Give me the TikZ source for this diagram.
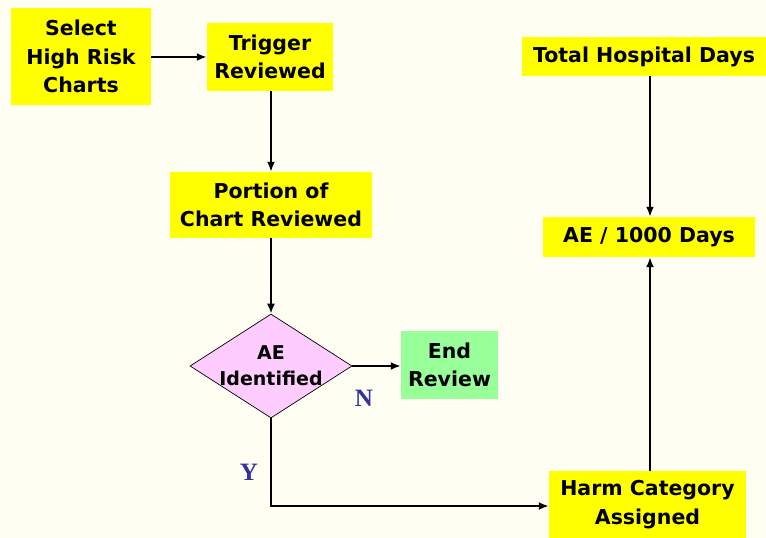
\documentclass[tikz,border=0pt]{standalone}
\usepackage{fontspec}
\setmainfont{DejaVu Sans}
\newfontfamily\yn{Liberation Serif}
\usetikzlibrary{shapes.geometric,arrows.meta}
\definecolor{boxyellow}{RGB}{255,255,0}
\definecolor{endgreen}{RGB}{153,255,153}
\definecolor{decpink}{RGB}{255,204,255}
\definecolor{bgcream}{RGB}{254,255,242}
\definecolor{ynblue}{RGB}{51,51,153}
\begin{document}
\begin{tikzpicture}[x=1pt,y=-1pt,
  box/.style={fill=boxyellow,draw=none,align=center,inner sep=0pt,font=\bfseries\fontsize{20.5}{28.5}\selectfont},
  flow/.style={line width=2pt,-{Latex[length=10pt,width=8pt]}},
  lbl/.style={text=ynblue,font=\yn\bfseries\fontsize{25}{25}\selectfont}]
\fill[bgcream] (0,0) rectangle (766,538);
\useasboundingbox (0,0) rectangle (766,538);
\node[box,minimum width=140pt,minimum height=97pt] (sel) at (81,56.5) {Select\\High Risk\\Charts};
\node[box,minimum width=126pt,minimum height=68pt] (trig) at (270,57) {Trigger\\Reviewed};
\node[box,minimum width=202pt,minimum height=66pt] (port) at (271,205) {Portion of\\Chart Reviewed};
\node[diamond,draw=black,line width=0.7pt,fill=decpink,minimum width=162pt,minimum height=104pt,inner sep=0pt,aspect=1.56] (dec) at (271,366) {};
\node[align=center,font=\bfseries\fontsize{19}{26}\selectfont] (dectext) at (271,366) {AE\\Identified};
\node[box,fill=endgreen,minimum width=97pt,minimum height=68pt] (endr) at (449.5,365) {End\\Review};
\node[box,minimum width=197pt,minimum height=67pt] (harm) at (647.5,504.5) {Harm Category\\Assigned};
\node[box,minimum width=212pt,minimum height=40pt] (ae) at (649,237) {AE / 1000 Days};
\node[box,minimum width=244pt,minimum height=39pt] (tot) at (644,56.5) {Total Hospital Days};
\draw[flow] (sel.east|-0,57) -- (trig.west|-0,57);
\draw[flow] (trig.south-|271,0) -- (port.north-|271,0);
\draw[flow] (port.south-|271,0) -- (dec.north);
\draw[flow] (dec.east) -- (endr.west|-dec.east);
\draw[flow] (dec.south) -- (271,506) -- (harm.west|-0,506);
\draw[flow] (harm.north-|650,0) -- (ae.south-|650,0);
\draw[flow] (tot.south-|650,0) -- (ae.north-|650,0);
\node[lbl] (ylab) at (249,472) {Y};
\node[lbl] (nlab) at (364,398) {N};
\end{tikzpicture}
\end{document}
